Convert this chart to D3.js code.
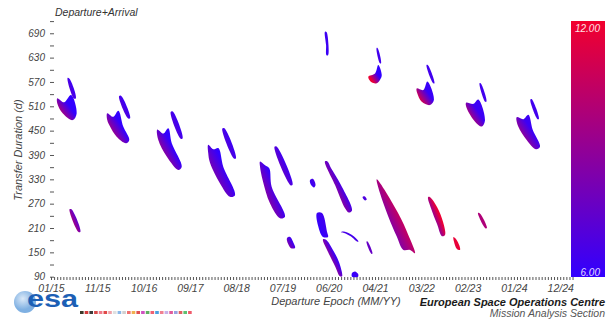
<!DOCTYPE html>
<html>
    <head>
        <meta charset="utf-8">
        <style>
            body { margin: 0; background: white; }
            text { font-family: 'Liberation Sans', Arial, sans-serif; }
        </style>
    </head>
    <body>
        <div id="chart"></div>
    </body>
    <script src="https://cdn.jsdelivr.net/npm/d3@7"></script>
    <script>
        // departure epoch in days from 01 Jan 2015, transfer duration in days
        const tickDays = [0, 330, 660, 990, 1320, 1650, 1980, 2310, 2640, 2970, 3300, 3630];
        const tickLabels = ['01/15', '11/15', '10/16', '09/17', '08/18', '07/19', '06/20', '04/21', '03/22', '02/23', '01/24', '12/24'];
        const durationLabels = [90, 150, 210, 270, 330, 390, 450, 510, 570, 630, 690];
        const colorDomain = [6, 12];

        // long transfer lobes (v = values at lower-left / upper-right side)
        const longLobes = [
            { pts: [[45,530],[93,520],[143,538],[183,493],[155,476],[83,493],[45,517]], v: [10.0, 6.0] },
            { pts: [[401,493],[444,484],[480,499],[515,460],[558,427],[535,419],[468,435],[421,460],[401,476]], v: [10.0, 6.0] },
            { pts: [[758,453],[801,443],[836,456],[861,419],[932,361],[908,353],[825,386],[765,427]], v: [10.0, 6.0] },
            { pts: [[1121,415],[1157,404],[1193,407],[1228,361],[1312,291],[1276,287],[1205,320],[1134,370],[1121,394]], v: [9.0, 6.0] },
            { pts: [[1490,374],[1526,365],[1556,357],[1573,312],[1668,238],[1633,234],[1561,271],[1509,328],[1490,361]], v: [9.5, 6.0] },
            { pts: [[1953,374],[2025,316],[2096,259],[2124,248],[2146,253],[2067,316],[1996,358],[1971,374]], v: [11.5, 6.2] },
            { pts: [[2322,330],[2476,246],[2547,193],[2595,148],[2559,156],[2512,156],[2465,189],[2405,238],[2345,296]], v: [7.0, 11.0] },
            { pts: [[2688,286],[2709,259],[2752,220],[2787,190],[2809,193],[2795,225],[2752,262],[2702,286]], v: [6.2, 11.8] },
            { pts: [[3044,247],[3058,246],[3108,210],[3098,209]], v: [9.5, 10.0] }
        ];

        // thin arcs above each lobe
        const thinArcs = [
            { pts: [[118,580],[132,578],[178,530],[164,529]], v: [7.5, 6.3] },
            { pts: [[485,535],[499,536],[565,481],[551,480]], v: [7.5, 6.3] },
            { pts: [[853,496],[868,497],[939,431],[925,430]], v: [7.5, 6.3] },
            { pts: [[1221,455],[1236,456],[1319,382],[1305,381]], v: [7.5, 6.3] },
            { pts: [[1593,410],[1608,411],[1723,317],[1709,315]], v: [8.5, 6.3] },
            { pts: [[132,256],[146,256],[210,201],[196,200]], v: [11.0, 7.5] }
        ];

        // small patches near the bottom of the window
        const lowPatches = [
            { pts: [[1846,328],[1868,331],[1886,316],[1875,310],[1854,316]], v: [6.2, 6.6] },
            { pts: [[2221,286],[2235,288],[2251,280],[2239,278]], v: [6.5, 7.0] },
            { pts: [[1896,247],[1932,247],[1968,200],[1975,188],[1939,188],[1903,217]], v: [6.0, 6.4] },
            { pts: [[1939,182],[1975,151],[2025,116],[2060,91],[2075,91],[2053,126],[2010,156],[1961,181]], v: [12.0, 6.3] },
            { pts: [[1682,185],[1704,188],[1732,171],[1740,161],[1711,160],[1690,171]], v: [8.5, 6.5] },
            { pts: [[2071,201],[2096,201],[2146,193],[2192,177],[2185,176],[2139,189],[2089,198],[2071,199]], v: [7.5, 6.5] },
            { pts: [[2249,176],[2256,177],[2292,147],[2285,146]], v: [8.0, 7.5] },
            { pts: [[2146,99],[2167,103],[2189,97],[2189,90],[2146,90]], v: [6.0, 6.3] },
            { pts: [[2869,188],[2887,183],[2912,166],[2916,156],[2894,158],[2873,176]], v: [11.5, 11.8] }
        ];

        // upper right short lobes and their arcs
        const upperLobes = [
            { pts: [[1953,694],[1964,693],[1978,661],[1975,636],[1964,636],[1961,661]], v: [6.1, 6.4] },
            { pts: [[2262,583],[2310,591],[2333,612],[2358,587],[2345,575],[2322,567],[2286,569]], v: [11.8, 6.0] },
            { pts: [[2321,654],[2328,654],[2353,616],[2345,616]], v: [7.0, 6.3] },
            { pts: [[2607,554],[2654,550],[2683,571],[2730,526],[2702,513],[2643,521],[2611,542]], v: [11.0, 6.2] },
            { pts: [[2677,612],[2686,612],[2734,567],[2725,567]], v: [7.0, 6.3] },
            { pts: [[2959,519],[3011,516],[3046,527],[3094,476],[3071,460],[3023,472],[2964,505]], v: [10.5, 6.3] },
            { pts: [[3055,567],[3063,567],[3105,522],[3096,521]], v: [7.0, 6.3] },
            { pts: [[3320,483],[3367,478],[3403,489],[3434,452],[3486,410],[3458,404],[3391,427],[3331,460]], v: [10.0, 6.3] },
            { pts: [[3417,527],[3426,528],[3478,479],[3469,478]], v: [7.0, 6.3] }
        ];

        const flagColors = ['#3a3a2a', '#d23a3a', '#3b3b3b', '#d84a4a', '#f07a8a', '#e04848', '#f0a0a8', '#e0e0e0',
            '#8ab8e8', '#d0d0d0', '#f07070', '#f0b050', '#e05050', '#d050c0', '#60b060', '#f06070', '#4aa0e0',
            '#f08090', '#c8b0e8', '#e05a9a', '#9aa0e0', '#e06060', '#60c070', '#f05a6a'];

        const width = 613;
        const height = 320;

        const svg = d3.select('#chart')
            .append('svg')
            .attr('width', width)
            .attr('height', height)
            .style('background-color', 'white');

        const xScale = d3.scaleLinear()
            .domain([0, 3650])
            .range([51, 563]);

        const yScale = d3.scaleLinear()
            .domain([90, 720])
            .range([276.7, 21.1]);

        const color = d3.scaleLinear()
            .domain(colorDomain)
            .range(['rgb(50,0,255)', 'rgb(242,0,45)']);

        const defs = svg.append('defs');
        const blobs = [...longLobes, ...thinArcs, ...lowPatches, ...upperLobes];

        blobs.forEach((b, i) => {
            const g = defs.append('linearGradient')
                .attr('id', 'blob' + i)
                .attr('x1', 0).attr('y1', 0.9)
                .attr('x2', 0.9).attr('y2', 0.1);
            g.append('stop').attr('offset', '20%').attr('stop-color', color(b.v[0]));
            g.append('stop').attr('offset', '65%').attr('stop-color', color(b.v[1]));
        });

        const blobLine = d3.line()
            .x(d => xScale(d[0]))
            .y(d => yScale(d[1]))
            .curve(d3.curveCatmullRomClosed.alpha(0.5));

        svg.append('g')
            .selectAll('path')
            .data(blobs)
            .enter()
            .append('path')
            .attr('d', d => blobLine(d.pts))
            .attr('fill', (d, i) => `url(#blob${i})`);

        // y axis
        const yAxis = d3.axisLeft(yScale)
            .tickValues(d3.range(90, 721, 30))
            .tickSize(4)
            .tickPadding(5)
            .tickFormat(d => durationLabels.includes(d) ? d : '');

        const yG = svg.append('g')
            .attr('transform', 'translate(54,0)')
            .call(yAxis);
        yG.select('.domain').remove();
        yG.selectAll('line').attr('stroke', '#555');
        yG.selectAll('text')
            .attr('fill', '#444')
            .style('font-size', '10px')
            .style('font-style', 'italic');

        // x axis: dense minor ticks, then labels
        const xMinor = d3.axisBottom(xScale)
            .tickValues(d3.range(0, 3740, 22))
            .tickSize(3)
            .tickFormat('');

        const xG = svg.append('g')
            .attr('transform', 'translate(0,277)')
            .call(xMinor);
        xG.select('.domain').remove();
        xG.selectAll('line').attr('stroke', '#555');

        const xLabels = d3.axisBottom(xScale)
            .tickValues(tickDays)
            .tickSize(0)
            .tickPadding(8)
            .tickFormat((d, i) => tickLabels[i]);

        const xL = svg.append('g')
            .attr('transform', 'translate(0,277)')
            .call(xLabels);
        xL.select('.domain').remove();
        xL.selectAll('text')
            .attr('fill', '#444')
            .style('font-size', '10.5px')
            .style('font-style', 'italic');

        // titles
        svg.append('text')
            .attr('x', 55)
            .attr('y', 16)
            .attr('fill', '#333')
            .style('font-size', '10.5px')
            .style('font-style', 'italic')
            .text('Departure+Arrival');

        svg.append('text')
            .attr('transform', 'translate(22,150) rotate(-90)')
            .attr('text-anchor', 'middle')
            .attr('fill', '#444')
            .style('font-size', '11px')
            .style('font-style', 'italic')
            .text('Transfer Duration (d)');

        svg.append('text')
            .attr('x', 336)
            .attr('y', 305)
            .attr('text-anchor', 'middle')
            .attr('fill', '#444')
            .style('font-size', '11px')
            .style('font-style', 'italic')
            .text('Departure Epoch (MM/YY)');

        svg.append('text')
            .attr('x', 605)
            .attr('y', 306)
            .attr('text-anchor', 'end')
            .attr('fill', '#1a1a1a')
            .style('font-size', '11px')
            .style('font-style', 'italic')
            .style('font-weight', 'bold')
            .text('European Space Operations Centre');

        svg.append('text')
            .attr('x', 605)
            .attr('y', 317)
            .attr('text-anchor', 'end')
            .attr('fill', '#555')
            .style('font-size', '10.5px')
            .style('font-style', 'italic')
            .text('Mission Analysis Section');

        // colour bar
        const barScale = d3.scaleLinear()
            .domain(colorDomain)
            .range([277, 21]);

        const barGrad = defs.append('linearGradient')
            .attr('id', 'bar')
            .attr('x1', 0).attr('y1', 1)
            .attr('x2', 0).attr('y2', 0);
        barGrad.append('stop').attr('offset', '0%').attr('stop-color', color(colorDomain[0]));
        barGrad.append('stop').attr('offset', '100%').attr('stop-color', color(colorDomain[1]));

        svg.append('rect')
            .attr('x', 571)
            .attr('y', barScale(colorDomain[1]))
            .attr('width', 34)
            .attr('height', barScale(colorDomain[0]) - barScale(colorDomain[1]))
            .attr('fill', 'url(#bar)');

        svg.append('text')
            .attr('x', 600)
            .attr('y', barScale(colorDomain[1]) + 11)
            .attr('text-anchor', 'end')
            .attr('fill', '#ffe0e4')
            .style('font-size', '10px')
            .style('font-style', 'italic')
            .text(colorDomain[1].toFixed(2));

        svg.append('text')
            .attr('x', 600)
            .attr('y', barScale(colorDomain[0]) - 1)
            .attr('text-anchor', 'end')
            .attr('fill', '#e0dcff')
            .style('font-size', '10px')
            .style('font-style', 'italic')
            .text(colorDomain[0].toFixed(2));

        // esa logo
        const logoGrad = defs.append('radialGradient')
            .attr('id', 'globe')
            .attr('cx', '40%').attr('cy', '35%');
        logoGrad.append('stop').attr('offset', '0%').attr('stop-color', '#dbe9f8');
        logoGrad.append('stop').attr('offset', '100%').attr('stop-color', '#7fb0e2');

        svg.append('circle')
            .attr('cx', 25)
            .attr('cy', 302)
            .attr('r', 11)
            .attr('fill', 'url(#globe)');

        svg.append('text')
            .attr('x', 27)
            .attr('y', 307)
            .attr('fill', '#1c5fb5')
            .attr('textLength', 51)
            .attr('lengthAdjust', 'spacingAndGlyphs')
            .style('font-size', '23px')
            .style('font-weight', 'bold')
            .text('esa');

        svg.append('g')
            .selectAll('rect')
            .data(flagColors)
            .enter()
            .append('rect')
            .attr('x', (d, i) => 80 + i * 4.7)
            .attr('y', 311)
            .attr('width', 3.6)
            .attr('height', 3)
            .attr('fill', d => d);
    </script>
</html>
